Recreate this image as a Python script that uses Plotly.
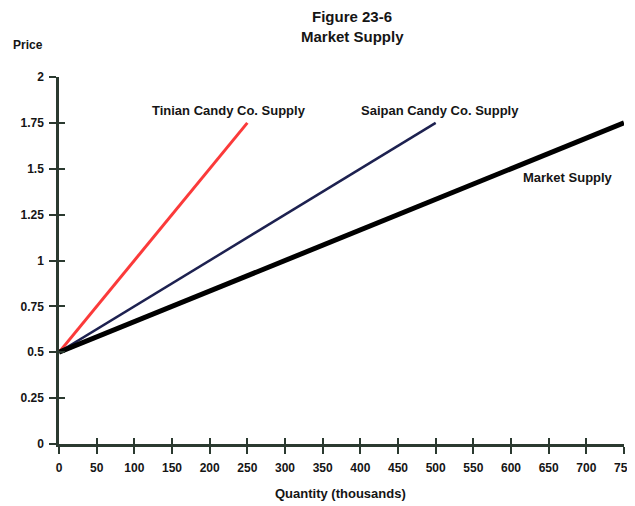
import plotly.graph_objects as go

# dados das curvas de oferta (quantidade em milhares, preço)
quantidade_tinian = [0, 250]
quantidade_saipan = [0, 500]
quantidade_mercado = [0, 750]
preco = [0.5, 1.75]

ticks_x = list(range(0, 751, 50))
ticks_y = [0, 0.25, 0.5, 0.75, 1, 1.25, 1.5, 1.75, 2]
ticks_y_txt = ['0', '0.25', '0.5', '0.75', '1', '1.25', '1.5', '1.75', '2']

fonte = 'Liberation Sans, Arial, sans-serif'
cor_eixo = '#2b3a30'
cor_txt = '#151515'

fig = go.Figure()
fig.add_trace(go.Scatter(x=quantidade_tinian, y=preco, mode='lines',
                         line=dict(color='#fb3a3a', width=3), showlegend=False))
fig.add_trace(go.Scatter(x=quantidade_saipan, y=preco, mode='lines',
                         line=dict(color='#1d2150', width=2.5), showlegend=False))
fig.add_trace(go.Scatter(x=quantidade_mercado, y=preco, mode='lines',
                         line=dict(color='#000000', width=5), showlegend=False))

# rótulos das curvas (coordenadas dos dados)
rotulos = [
    ('Tinian Candy Co. Supply', 226, 1.82),
    ('Saipan Candy Co. Supply', 506, 1.82),
    ('Market Supply', 676, 1.45),
]
anots = [dict(text='<b>' + t + '</b>', x=x, y=y, xref='x', yref='y', showarrow=False,
              xanchor='center', yanchor='middle',
              font=dict(family=fonte, size=13, color=cor_txt))
         for t, x, y in rotulos]

# textos fora da área do gráfico
textos = [
    ('Figure 23-6', 0.519, 1.166, 15),
    ('Market Supply', 0.519, 1.109, 15),
    ('Price', -0.055, 1.087, 12),
    ('Quantity (thousands)', 0.499, -0.134, 13),
]
for t, x, y, s in textos:
    anots.append(dict(text='<b>' + t + '</b>', x=x, y=y, xref='paper', yref='paper',
                      showarrow=False, xanchor='center', yanchor='middle',
                      font=dict(family=fonte, size=s, color=cor_txt)))

eixo = dict(showgrid=False, zeroline=False, showline=True, linecolor=cor_eixo,
            linewidth=2.5, ticks='outside', ticklen=7, tickwidth=2, automargin=False,
            tickcolor=cor_eixo, tickfont=dict(family=fonte, size=12, color=cor_txt))

# eixos extras só para a parte de dentro dos ticks (ticks cruzando o eixo)
eixo_dentro = dict(showline=False, showgrid=False, zeroline=False, ticks='inside',
                   ticklen=6, tickwidth=2, tickcolor=cor_eixo, showticklabels=False,
                   automargin=False)

fig.update_layout(
    width=627, height=498,
    margin=dict(l=51, r=11, t=69, b=62),
    plot_bgcolor='white', paper_bgcolor='white',
    annotations=anots,
    xaxis=dict(eixo, range=[0, 750], tickvals=ticks_x, ticklabelstandoff=4,
               ticktext=['<b>%d</b>' % v for v in ticks_x]),
    yaxis=dict(eixo, range=[0, 2], tickvals=ticks_y, ticklabelstandoff=3,
               ticktext=['<b>' + t + '</b>' for t in ticks_y_txt]),
    xaxis2=dict(eixo_dentro, overlaying='x', matches='x', tickvals=ticks_x, range=[0, 750]),
    yaxis2=dict(eixo_dentro, overlaying='y', matches='y', tickvals=ticks_y, range=[0, 2]),
)
fig.add_trace(go.Scatter(x=[0], y=[0], xaxis='x2', yaxis='y2', mode='markers',
                         marker=dict(opacity=0), showlegend=False, hoverinfo='skip'))

fig.write_html('out.html')
